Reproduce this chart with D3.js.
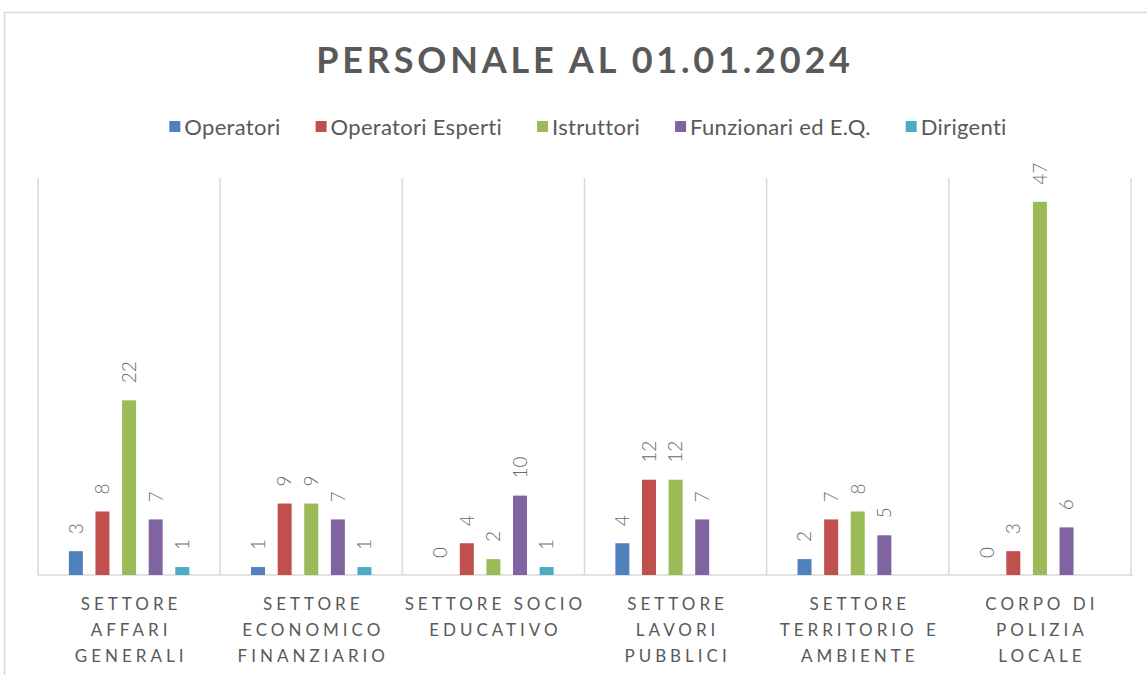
<!DOCTYPE html>
<html>
<head>
<meta charset="utf-8">
<script src="https://cdn.jsdelivr.net/npm/d3@7"></script>
<style>
  body { margin: 0; background: #fff; }
  svg { display: block; font-family: Lato, "Open Sans", sans-serif; }
</style>
</head>
<body>
<svg id="chart" width="1147" height="675"></svg>
<script>
// categories, wrapped the way the original axis shows them
const categories = [
    ["SETTORE", "AFFARI", "GENERALI"],
    ["SETTORE", "ECONOMICO", "FINANZIARIO"],
    ["SETTORE SOCIO", "EDUCATIVO"],
    ["SETTORE", "LAVORI", "PUBBLICI"],
    ["SETTORE", "TERRITORIO E", "AMBIENTE"],
    ["CORPO DI", "POLIZIA", "LOCALE"]
];
const seriesNames = ["Operatori", "Operatori Esperti", "Istruttori", "Funzionari ed E.Q.", "Dirigenti"];
const seriesColors = ["#4f81bd", "#c0504d", "#9bbb59", "#8064a2", "#4bacc6"];

// one array per series, in category order (null = no bar, no label)
const operatori = [3, 1, 0, 4, 2, 0];
const operatoriEsperti = [8, 9, 4, 12, 7, 3];
const istruttori = [22, 9, 2, 12, 8, 47];
const funzionari = [7, 7, 10, 7, 5, 6];
const dirigenti = [1, 1, 1, null, null, null];

const seriesValues = [operatori, operatoriEsperti, istruttori, funzionari, dirigenti];
const yMax = 50;

const svg = d3.select("#chart");
const textColor = "#595959";
const gridColor = "#d9d9d9";

const plot = { left: 38, right: 1131, top: 178, bottom: 575 };

// outer chart border (runs off the right and bottom of the picture)
svg.append("rect")
    .attr("x", 4.5).attr("y", 12.5)
    .attr("width", 1200).attr("height", 700)
    .attr("fill", "none")
    .attr("stroke", gridColor)
    .attr("stroke-width", 1.5);

// title
svg.append("text")
    .attr("x", 585).attr("y", 73)
    .attr("text-anchor", "middle")
    .attr("font-size", 36)
    .attr("font-weight", "bold")
    .attr("letter-spacing", "3.8px")
    .attr("fill", textColor)
    .text("PERSONALE AL 01.01.2024");

// scales
const x0 = d3.scaleBand()
    .domain(d3.range(categories.length))
    .range([plot.left, plot.right])
    .padding(0);

const x1 = d3.scaleBand()
    .domain(d3.range(seriesNames.length))
    .range([0, x0.bandwidth()])
    .paddingInner(0.474)
    .paddingOuter(1.16);

const y = d3.scaleLinear()
    .domain([0, yMax])
    .range([plot.bottom, plot.top]);

// vertical separators between categories
const grid = svg.append("g").attr("class", "grid");
grid.selectAll("line")
    .data(d3.range(categories.length + 1))
    .join("line")
    .attr("x1", d => d < categories.length ? x0(d) : x0(d - 1) + x0.bandwidth())
    .attr("x2", d => d < categories.length ? x0(d) : x0(d - 1) + x0.bandwidth())
    .attr("y1", plot.top)
    .attr("y2", plot.bottom)
    .attr("stroke", gridColor)
    .attr("stroke-width", 1.5);

// baseline
svg.append("line")
    .attr("x1", plot.left).attr("x2", plot.right + 2)
    .attr("y1", y(0)).attr("y2", y(0))
    .attr("stroke", gridColor)
    .attr("stroke-width", 1.5);

// bars and labels
const groups = svg.append("g").selectAll("g")
    .data(categories.map((c, i) => i))
    .join("g")
    .attr("transform", i => "translate(" + x0(i) + ",0)");

const cells = groups.selectAll("g")
    .data(i => seriesValues.map((vals, s) => ({ s: s, v: vals[i] })).filter(d => d.v !== null))
    .join("g");

cells.append("rect")
    .attr("x", d => x1(d.s))
    .attr("width", x1.bandwidth())
    .attr("y", d => y(d.v))
    .attr("height", d => y(0) - y(d.v))
    .attr("fill", d => seriesColors[d.s]);

cells.append("text")
    .attr("transform", d => "translate(" + (x1(d.s) + x1.bandwidth() / 2) + "," + (y(d.v) - 17) + ") rotate(-90)")
    .attr("dy", "0.36em")
    .attr("font-size", 19)
    .attr("font-weight", 300)
    .attr("fill", "#6b6b6b")
    .text(d => d.v);

// category labels
const catLabels = svg.append("g").selectAll("text")
    .data(categories)
    .join("text")
    .attr("text-anchor", "middle")
    .attr("font-size", 17)
    .attr("letter-spacing", "4px")
    .attr("fill", textColor);

catLabels.selectAll("tspan")
    .data((lines, i) => lines.map(l => ({ l: l, i: i })))
    .join("tspan")
    .attr("x", d => x0(d.i) + x0.bandwidth() / 2 + 2)
    .attr("y", (d, k) => 610 + k * 26)
    .text(d => d.l);

// legend, centred on the plot
const legendGap = 35;
const legend = svg.append("g");
const items = legend.selectAll("g")
    .data(seriesNames)
    .join("g");

items.append("rect")
    .attr("width", 11).attr("height", 11)
    .attr("y", -6)
    .attr("fill", (d, i) => seriesColors[i]);

items.append("text")
    .attr("x", 15)
    .attr("dy", "0.35em")
    .attr("font-size", 22)
    .attr("letter-spacing", "0.3px")
    .attr("fill", textColor)
    .text(d => d);

let pos = 0;
const offsets = [];
items.each(function () {
    offsets.push(pos);
    pos += this.getBBox().width + legendGap;
});
const totalWidth = pos - legendGap;
items.attr("transform", (d, i) => "translate(" + (offsets[i] + 588 - totalWidth / 2) + ",127)");
</script>
</body>
</html>
